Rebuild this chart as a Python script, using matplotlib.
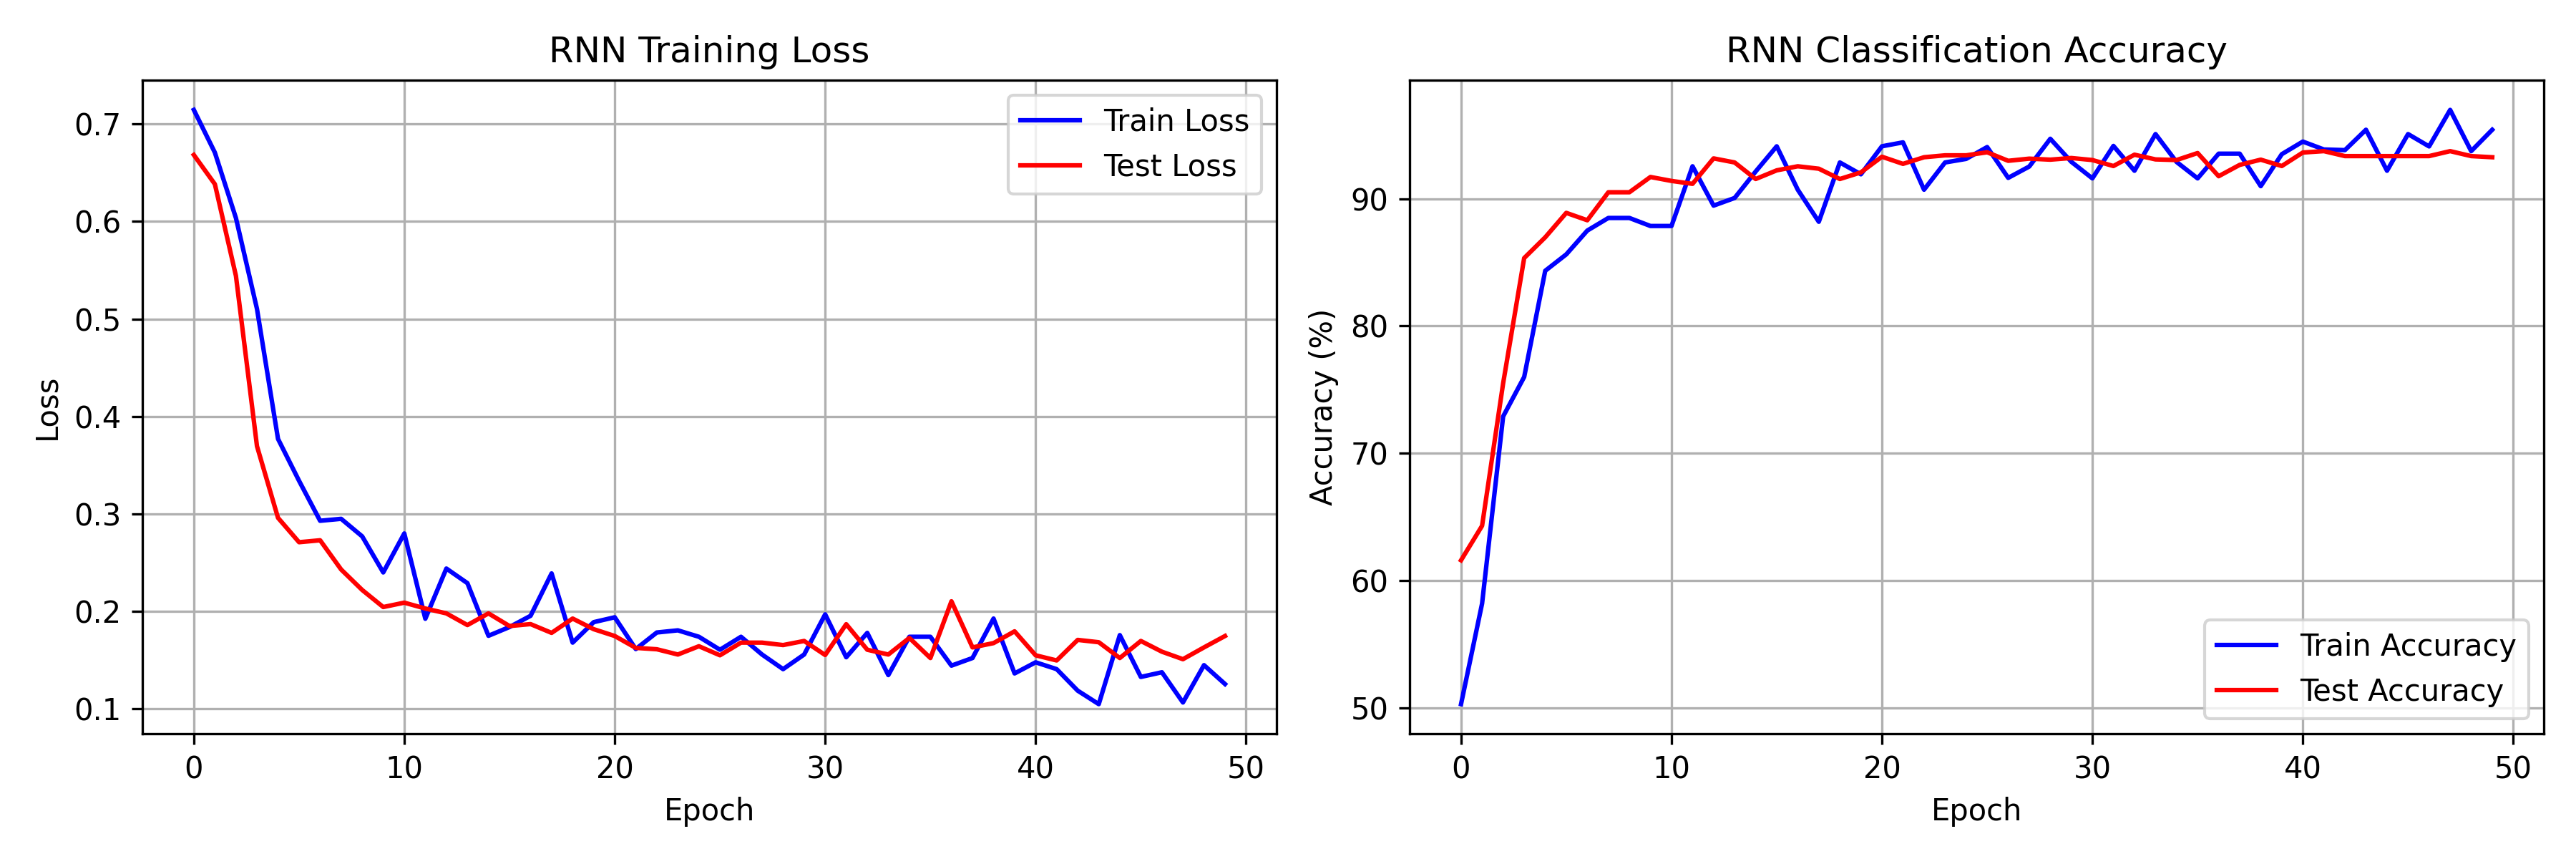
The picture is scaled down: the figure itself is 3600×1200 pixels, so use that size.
import numpy as np
import matplotlib
matplotlib.use("Agg")
import matplotlib.pyplot as plt

epochs = np.arange(50)

train_loss = [0.7145, 0.6707, 0.6036, 0.5104, 0.377, 0.334, 0.293, 0.295, 0.277, 0.240,
              0.280, 0.1925, 0.244, 0.229, 0.175, 0.184, 0.1955, 0.239, 0.168, 0.189,
              0.194, 0.1614, 0.1784, 0.1806, 0.174, 0.1607, 0.174, 0.1558, 0.1408, 0.1558,
              0.197, 0.153, 0.178, 0.1347, 0.174, 0.174, 0.1444, 0.1522, 0.1927, 0.1364,
              0.1478, 0.1408, 0.1187, 0.1049, 0.1757, 0.1328, 0.1376, 0.1066, 0.1449, 0.1255]
test_loss = [0.6683, 0.6383, 0.5443, 0.3696, 0.296, 0.271, 0.273, 0.243, 0.222, 0.2045,
             0.209, 0.203, 0.198, 0.186, 0.198, 0.185, 0.187, 0.178, 0.1927, 0.1818,
             0.1748, 0.1626, 0.1612, 0.1558, 0.1643, 0.155, 0.168, 0.168, 0.1655, 0.1697,
             0.1553, 0.1869, 0.1607, 0.1558, 0.1728, 0.1522, 0.2104, 0.1631, 0.1675, 0.1796,
             0.155, 0.1497, 0.1708, 0.1684, 0.1522, 0.1697, 0.1587, 0.151, 0.1631, 0.1748]

train_acc = [50.3, 58.2, 72.9, 76.0, 84.34, 85.63, 87.5, 88.49, 88.49, 87.86,
             87.86, 92.55, 89.46, 90.06, 92.14, 94.12, 90.71, 88.19, 92.85, 91.92,
             94.12, 94.43, 90.71, 92.85, 93.13, 94.06, 91.64, 92.53, 94.71, 92.9,
             91.60, 94.15, 92.20, 95.08, 92.89, 91.60, 93.54, 93.54, 90.99, 93.50,
             94.49, 93.87, 93.82, 95.42, 92.20, 95.08, 94.11, 96.98, 93.74, 95.42]
test_acc = [61.6, 64.31, 75.5, 85.34, 86.97, 88.89, 88.31, 90.51, 90.51, 91.71,
            91.40, 91.17, 93.17, 92.85, 91.55, 92.23, 92.55, 92.36, 91.55, 92.07,
            93.30, 92.74, 93.26, 93.41, 93.41, 93.65, 92.98, 93.15, 93.07, 93.2,
            93.04, 92.57, 93.46, 93.09, 93.04, 93.59, 91.77, 92.66, 93.07, 92.57,
            93.63, 93.74, 93.35, 93.35, 93.35, 93.35, 93.35, 93.74, 93.35, 93.26]

fig, (ax1, ax2) = plt.subplots(1, 2, figsize=(12, 4))

# loss
ax1.plot(epochs, train_loss, 'b-', label='Train Loss')
ax1.plot(epochs, test_loss, 'r-', label='Test Loss')
ax1.set_title('RNN Training Loss')
ax1.set_xlabel('Epoch')
ax1.set_ylabel('Loss')
ax1.legend(loc='upper right')
ax1.grid(True)

# accuracy
ax2.plot(epochs, train_acc, 'b-', label='Train Accuracy')
ax2.plot(epochs, test_acc, 'r-', label='Test Accuracy')
ax2.set_title('RNN Classification Accuracy')
ax2.set_xlabel('Epoch')
ax2.set_ylabel('Accuracy (%)')
ax2.legend(loc='lower right')
ax2.grid(True)

plt.tight_layout()
plt.savefig('out.png', dpi=300)
